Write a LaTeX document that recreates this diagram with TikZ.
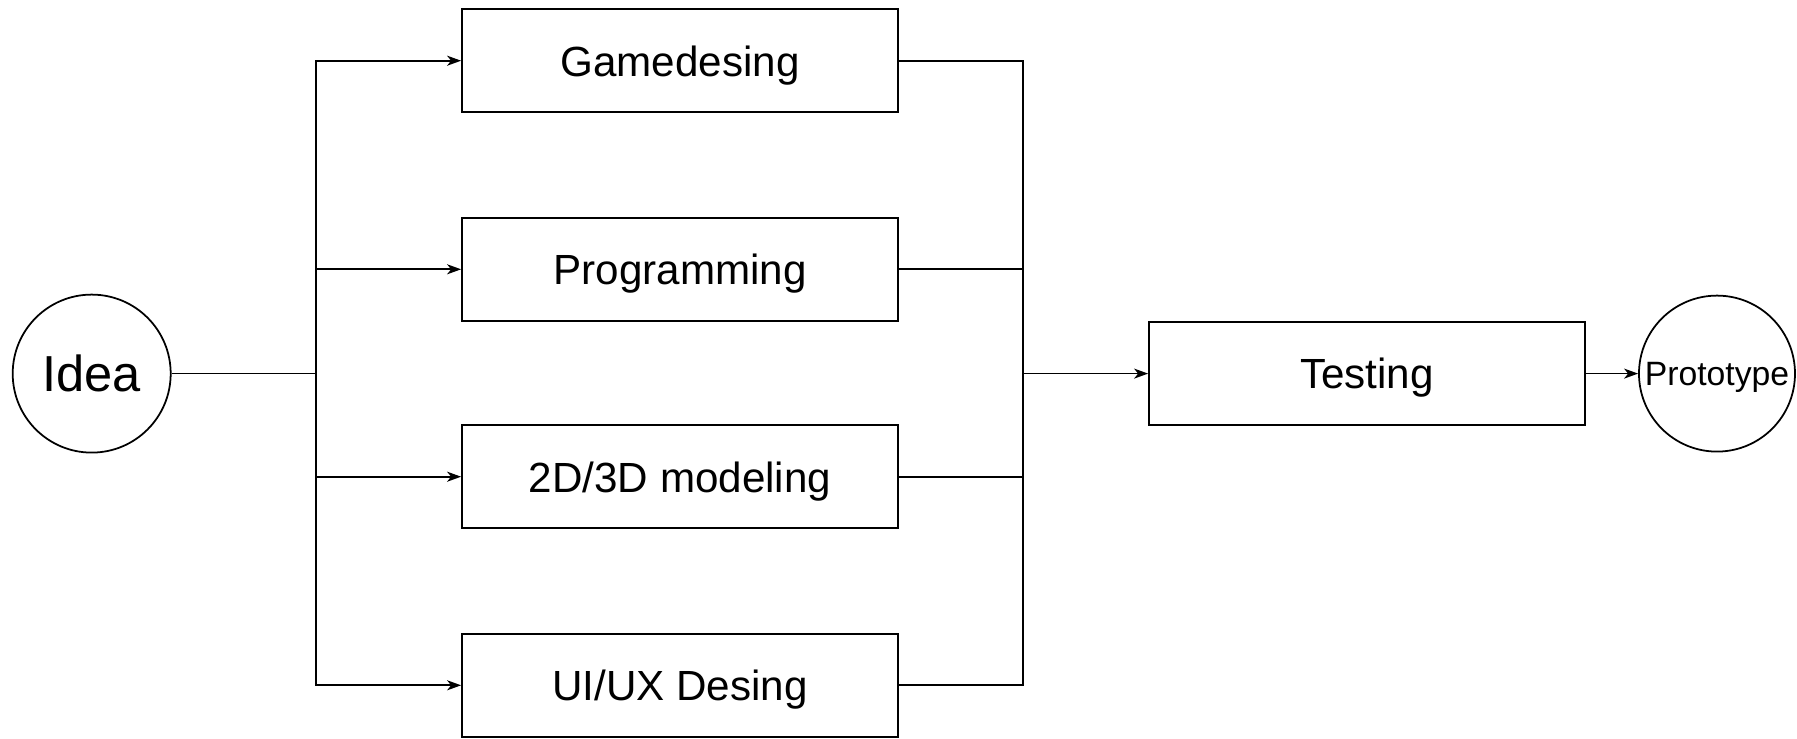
\documentclass[tikz,border=0pt]{standalone}
\usepackage{fontspec}
\setmainfont{Liberation Sans}
\usetikzlibrary{arrows.meta}
\begin{document}
\begin{tikzpicture}[line width=0.5pt,
  task/.style={draw, rectangle, minimum width=4.36cm, minimum height=1.03cm, text height=1.8ex, text depth=0.15ex, font=\fontsize{12}{14}\selectfont},
  endpoint/.style={draw, circle, inner sep=0pt},
  flow/.style={-{Stealth[length=1.4mm,width=1mm,inset=0.4mm]}}]
  \useasboundingbox (0,0) rectangle (17.97,7.38);
  \node[endpoint, minimum size=1.58cm, font=\fontsize{14.4}{16}\selectfont] (idea) at (0.917,3.644) {Idea};
  \node[task] (gd) at (6.80,6.773) {Gamedesing};
  \node[task] (prog) at (6.80,4.687) {Programming};
  \node[task] (model) at (6.80,2.613) {2D/3D modeling};
  \node[task] (ui) at (6.80,0.527) {UI/UX Desing};
  \node[task] (test) at (13.67,3.644) {Testing};
  \node[endpoint, minimum size=1.56cm, text height=1.6ex, text depth=0.35ex, font=\fontsize{9.6}{11}\selectfont] (proto) at (17.17,3.644) {Prototype};
  \coordinate (split) at (3.16,3.644);
  \coordinate (join) at (10.23,3.644);
  \draw (idea) -- (split);
  \draw[flow] (split) |- (gd);
  \draw[flow] (split) |- (prog);
  \draw[flow] (split) |- (model);
  \draw[flow] (split) |- (ui);
  \draw (gd) -| (join);
  \draw (prog) -| (join);
  \draw (model) -| (join);
  \draw (ui) -| (join);
  \draw[flow] (join) -- (test);
  \draw[flow] (test) -- (proto);
\end{tikzpicture}
\end{document}
